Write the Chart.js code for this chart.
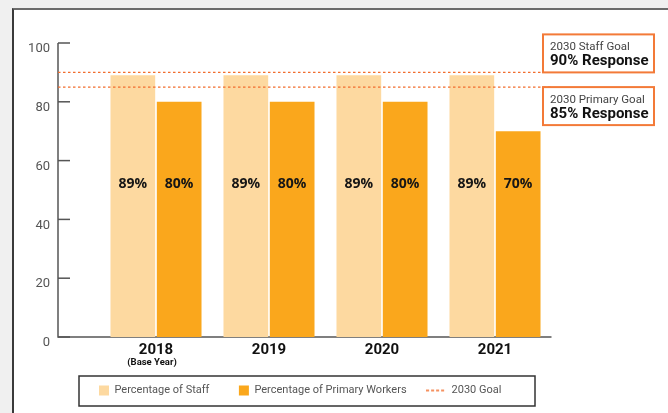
<!DOCTYPE html>
<html>
<head>
<meta charset="utf-8">
<script src="https://cdn.jsdelivr.net/npm/chart.js@4.4.1/dist/chart.umd.min.js"></script>
<style>
  html, body { margin: 0; padding: 0; background: #f0f0f0; width: 668px; height: 413px; overflow: hidden; }
  .card { position: absolute; left: 12px; top: 8px; width: 670px; height: 420px; background: #fff;
          border-left: 2px solid #3a3a3a; border-top: 2px solid #6b6b6b; }
  #wrap { position: absolute; left: 0; top: 0; width: 668px; height: 413px; }
</style>
</head>
<body>
<div class="card"></div>
<div id="wrap"><canvas id="grafica-goal"></canvas></div>
<script>
// chart values
const categories = ['2018', '2019', '2020', '2021'];
const subLabels = ['(Base Year)', '', '', ''];
const staffPct = [89, 89, 89, 89];
const primaryPct = [80, 80, 80, 70];
const goalValues = [90, 85];
const goalTitles = ['2030 Staff Goal', '2030 Primary Goal'];
const goalTexts = ['90% Response', '85% Response'];
const legendNames = ['Percentage of Staff', 'Percentage of Primary Workers', '2030 Goal'];

const staffColor = '#FDD9A0';
const primaryColor = '#FAA71C';
const goalColor = '#F26D2C';
const axisColor = '#555';
const plotBottom = 337;

// little dashed icon for the legend (right part left empty as a gap before the text)
const dashIcon = document.createElement('canvas');
dashIcon.width = 30; dashIcon.height = 4;
(function () {
    const c = dashIcon.getContext('2d');
    c.strokeStyle = goalColor; c.lineWidth = 1.5;
    c.setLineDash([3, 2]);
    c.beginPath(); c.moveTo(0, 2); c.lineTo(20, 2); c.stroke();
})();

const extras = {
    id: 'extras',
    afterLayout(chart) {
        // legend sits in its own framed strip under the plot
        const lg = chart.legend;
        lg.left = 69.5; lg.right = 600; lg.width = 530.5;
        lg.top = 355.5; lg.bottom = 426;
    },
    beforeDatasetsDraw(chart) {
        const ctx = chart.ctx;
        const y = chart.scales.y, x = chart.scales.x;
        const axX = 58;
        ctx.save();
        ctx.strokeStyle = axisColor;
        ctx.lineWidth = 1.5;
        ctx.beginPath();
        ctx.moveTo(axX, y.getPixelForValue(100));
        ctx.lineTo(axX, y.getPixelForValue(0));
        ctx.lineTo(chart.chartArea.right, y.getPixelForValue(0));
        ctx.stroke();
        y.ticks.forEach(t => {
            const py = y.getPixelForValue(t.value);
            ctx.beginPath(); ctx.moveTo(axX, py); ctx.lineTo(axX + 12, py); ctx.stroke();
        });
        // sub labels under years
        ctx.fillStyle = '#111';
        ctx.font = 'bold 9.5px Roboto';
        ctx.textAlign = 'center';
        ctx.textBaseline = 'middle';
        subLabels.forEach((s, i) => {
            if (s) ctx.fillText(s, x.getPixelForValue(i) - 4, 363);
        });
        // legend frame
        ctx.strokeStyle = '#333';
        ctx.lineWidth = 1.5;
        ctx.strokeRect(79, 376, 456, 30);
        ctx.restore();
    },
    afterDatasetsDraw(chart) {
        const ctx = chart.ctx;
        const y = chart.scales.y;
        const area = chart.chartArea;
        ctx.save();
        // value labels
        ctx.fillStyle = '#161616';
        ctx.font = 'bold 14px "Open Sans"';
        ctx.textAlign = 'center';
        ctx.textBaseline = 'middle';
        const ly = area.top + (area.bottom - area.top) * 0.48;
        chart.data.datasets.forEach((ds, di) => {
            chart.getDatasetMeta(di).data.forEach((bar, i) => {
                ctx.fillText(ds.data[i] + '%', bar.x, ly);
            });
        });
        // goal lines
        ctx.strokeStyle = goalColor;
        ctx.lineWidth = 1.3;
        ctx.setLineDash([2.5, 2.5]);
        goalValues.forEach(g => {
            const py = y.getPixelForValue(g);
            ctx.beginPath(); ctx.moveTo(58, py); ctx.lineTo(552, py); ctx.stroke();
        });
        ctx.setLineDash([]);
        // goal boxes
        goalValues.forEach((g, i) => {
            const py = y.getPixelForValue(g);
            const top = i === 0 ? py - 38 : py;
            ctx.fillStyle = '#fff';
            ctx.fillRect(543, top, 111, 38);
            ctx.strokeStyle = '#F37A38';
            ctx.lineWidth = 2;
            ctx.strokeRect(543, top, 111, 38);
            ctx.textAlign = 'left';
            ctx.fillStyle = '#444';
            ctx.font = '11.5px Roboto';
            ctx.fillText(goalTitles[i], 550, top + 13);
            ctx.fillStyle = '#111';
            ctx.font = 'bold 15px Roboto';
            ctx.fillText(goalTexts[i], 550, top + 27);
        });
        ctx.restore();
    }
};

const canvas = document.getElementById('grafica-goal');
const goalChart = new Chart(canvas, {
    type: 'bar',
    data: {
        labels: categories,
        datasets: [{
            label: legendNames[0],
            data: staffPct,
            backgroundColor: staffColor,
            categoryPercentage: 0.82,
            barPercentage: 0.965
        }, {
            label: legendNames[1],
            data: primaryPct,
            backgroundColor: primaryColor,
            categoryPercentage: 0.82,
            barPercentage: 0.965
        }]
    },
    options: {
        responsive: true,
        maintainAspectRatio: false,
        animation: false,
        layout: { padding: { top: 43, right: 116.5, bottom: 0, left: 0 } },
        plugins: {
            tooltip: { enabled: false },
            legend: {
                display: true,
                position: 'bottom',
                align: 'start',
                labels: {
                    usePointStyle: true,
                    boxWidth: 10,
                    boxHeight: 10,
                    padding: 29.5,
                    color: '#555',
                    font: { family: 'Roboto', size: 11 },
                    generateLabels: () => [
                        { text: legendNames[0], fillStyle: staffColor, strokeStyle: staffColor, lineWidth: 0, pointStyle: 'rect', fontColor: '#555', hidden: false, datasetIndex: 0 },
                        { text: legendNames[1], fillStyle: primaryColor, strokeStyle: primaryColor, lineWidth: 0, pointStyle: 'rect', fontColor: '#555', hidden: false, datasetIndex: 1 },
                        { text: legendNames[2], fillStyle: goalColor, strokeStyle: goalColor, lineWidth: 0, pointStyle: dashIcon, fontColor: '#555', hidden: false }
                    ]
                }
            }
        },
        scales: {
            x: {
                grid: { display: false, drawTicks: false },
                border: { display: false },
                ticks: {
                    color: '#111',
                    padding: 4,
                    font: { family: 'Roboto', size: 15, weight: 'bold' }
                },
                afterFit: s => { s.height = s.chart.height - s.chart.legend.height - plotBottom; }
            },
            y: {
                min: 0,
                max: 100,
                grid: { display: false, drawTicks: false },
                border: { display: false },
                ticks: {
                    stepSize: 20,
                    padding: 49.5,
                    labelOffset: 6,
                    color: '#555',
                    font: { family: 'Roboto', size: 13 }
                },
                afterFit: s => { s.width = 99.5; s.paddingTop = 0; s.paddingBottom = 0; }
            }
        }
    },
    plugins: [extras]
});
</script>
</body>
</html>
